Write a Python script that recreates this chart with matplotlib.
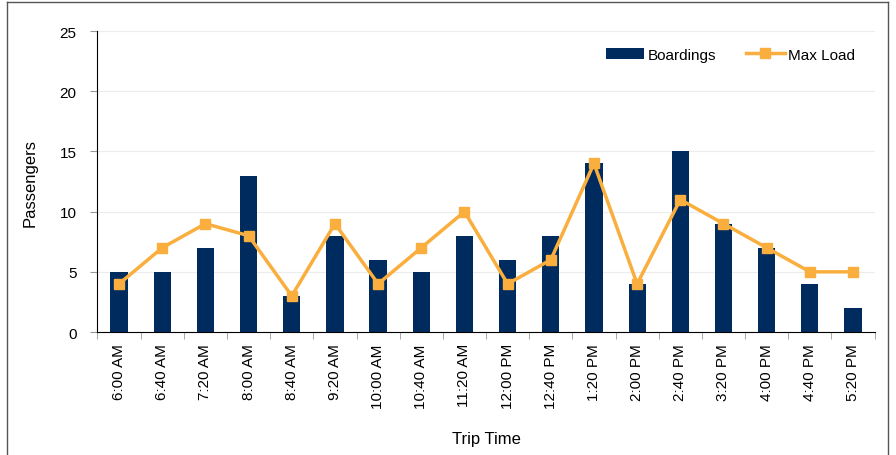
import numpy as np
import matplotlib.pyplot as plt
from matplotlib.lines import Line2D

plt.rcParams['font.family'] = ['Liberation Sans', 'DejaVu Sans']

times = ['6:00 AM', '6:40 AM', '7:20 AM', '8:00 AM', '8:40 AM', '9:20 AM',
         '10:00 AM', '10:40 AM', '11:20 AM', '12:00 PM', '12:40 PM', '1:20 PM',
         '2:00 PM', '2:40 PM', '3:20 PM', '4:00 PM', '4:40 PM', '5:20 PM']
boardings = [5, 5, 7, 13, 3, 8, 6, 5, 8, 6, 8, 14, 4, 15, 9, 7, 4, 2]
max_load = [4, 7, 9, 8, 3, 9, 4, 7, 10, 4, 6, 14, 4, 11, 9, 7, 5, 5]

bar_col = '#002B5E'
line_col = '#F9AE3D'

fig = plt.figure(figsize=(8.96, 4.56), dpi=100)
ax = fig.add_axes([0.1088, 0.2697, 0.8673, 0.660])

x = np.arange(len(times))
bars = ax.bar(x, boardings, 0.4, color=bar_col, label='Boardings', zorder=2)
ln, = ax.plot(x, max_load, color=line_col, lw=2.5, marker='s', ms=7,
              label='Max Load', zorder=3)

ax.set_xlim(-0.5, len(times) - 0.5)
ax.set_ylim(0, 25)
ax.set_yticks([0, 5, 10, 15, 20, 25])
ax.yaxis.grid(True, color='#ececec', lw=0.8, zorder=0)
ax.set_axisbelow(True)

ax.set_xticks(x)
ax.set_xticklabels(times, rotation=90, fontsize=11)
ax.tick_params(axis='x', length=0, pad=8)
ax.set_xticks(np.arange(-0.5, len(times)), minor=True)
ax.tick_params(axis='x', which='minor', length=5, color='#999999')
ax.tick_params(axis='y', labelsize=11, length=5, color='#999999', pad=10)

for s in ['top', 'right']:
    ax.spines[s].set_visible(False)
ax.spines['left'].set_color('black')
ax.spines['bottom'].set_color('black')

ax.set_ylabel('Passengers', fontsize=12, labelpad=16)
ax.set_xlabel('Trip Time', fontsize=12, labelpad=16)

ax.legend([bars, ln], ['Boardings', 'Max Load'], loc='upper right',
          bbox_to_anchor=(0.992, 0.99), ncol=2, frameon=False,
          fontsize=11, handlelength=2.5, columnspacing=2.0, handletextpad=0.2)

# outer chart border
fig.add_artist(Line2D([7/896, 7/896], [0, 1 - 3/456], color='#555555', lw=1))
fig.add_artist(Line2D([7/896, 888/896], [1 - 3/456, 1 - 3/456], color='#555555', lw=1))
fig.add_artist(Line2D([888/896, 888/896], [0, 1 - 3/456], color='#555555', lw=1))

fig.savefig('out.png', dpi=100)
